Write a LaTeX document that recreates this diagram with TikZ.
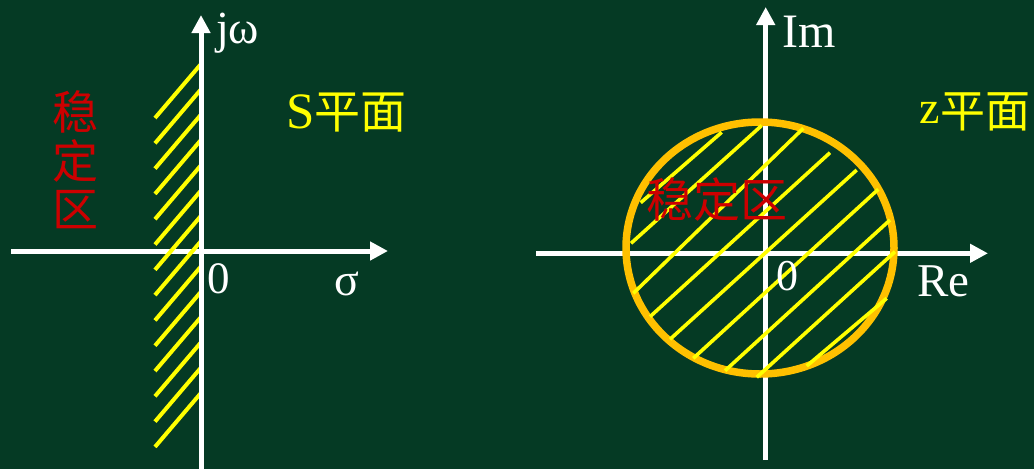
\documentclass[tikz,border=0pt]{standalone}
\usepackage{fontspec}
\setmainfont{Liberation Serif}
\newfontfamily\cjk{Noto Sans CJK SC}
\usetikzlibrary{arrows.meta}
\definecolor{bg}{HTML}{053A24}
\definecolor{hatchy}{HTML}{FFFF00}
\definecolor{ring}{HTML}{FFC000}
\definecolor{stab}{HTML}{CC0000}
\begin{document}
\begin{tikzpicture}[x=1pt,y=-1pt,
  axis/.style={draw=white,line width=5pt,-{Triangle[length=18pt,width=18pt]}},
  hatch/.style={draw=hatchy,line width=3.6pt},
  lbl/.style={inner sep=0pt,anchor=base west,text=white},
  cjklbl/.style={inner sep=0pt,font=\cjk\fontsize{47}{47}\selectfont}]
\fill[bg] (0,0) rectangle (1034,469);
\useasboundingbox (0,0) rectangle (1034,469);
% left plane
\coordinate (lxl) at (11,251);
\coordinate (lxr) at (388,251);
\coordinate (lyb) at (201,469);
\coordinate (lyt) at (201,15);
\draw[axis] (lxl) -- (lxr);
\foreach \k in {0,...,13}{
  \draw[hatch,line width=4pt] (201,{64+25.3*\k}) -- (155,{118+25.3*\k});
}
\draw[axis] (lyb) -- (lyt);
\node[lbl,font=\fontsize{46}{46}\selectfont] (jw) at (216,43) {jω};
\node[lbl,font=\fontsize{45}{45}\selectfont] (o1) at (207,293) {0};
\node[lbl,font=\fontsize{46}{46}\selectfont] (sig) at (334,295) {σ};
\node[lbl,text=hatchy] (splane) at (286,128) {{\fontsize{51}{51}\selectfont S}{\cjk\fontsize{46}{46}\selectfont 平面}};
\node[cjklbl,text=stab,align=center,font=\cjk\fontsize{46}{48.5}\selectfont] (stabL) at (75,160) {稳\\定\\区};
% right plane
\coordinate (rxl) at (536,253.3);
\coordinate (rxr) at (988,253.3);
\coordinate (ryb) at (765.7,460);
\coordinate (ryt) at (765.7,7);
\draw[axis] (rxl) -- (rxr);
\draw[axis] (ryb) -- (ryt);
\draw[draw=ring,line width=7.5pt] (760,248) ellipse [x radius=134, y radius=126];
\draw[hatch] (640.7,202.7) -- (721.7,132.3);
\draw[hatch] (631,243.3) -- (761.7,125.5);
\draw[hatch] (633.3,293.3) -- (803.3,128.3);
\draw[hatch] (650,316.7) -- (830,152.7);
\draw[hatch] (670,339.3) -- (856.7,170);
\draw[hatch] (693.3,358.3) -- (878.3,189.3);
\draw[hatch] (725,370.7) -- (890,220);
\draw[hatch] (756.7,377.3) -- (895,251.7);
\draw[hatch] (806.7,366) -- (886.7,298.3);
\node[lbl,font=\fontsize{48}{48}\selectfont] (im) at (782,47) {Im};
\node[lbl,font=\fontsize{47}{47}\selectfont] (re) at (917,296) {Re};
\node[lbl,font=\fontsize{44}{44}\selectfont] (o2) at (776,290) {0};
\node[lbl,text=hatchy,font=\fontsize{46}{46}\selectfont] (zlab) at (919,123) {z};
\node[lbl,text=hatchy,font=\cjk\fontsize{45}{45}\selectfont] (zcjk) at (940,127) {平面};
\node[cjklbl,text=stab] (stabR) at (717,200) {稳定区};
\end{tikzpicture}
\end{document}
